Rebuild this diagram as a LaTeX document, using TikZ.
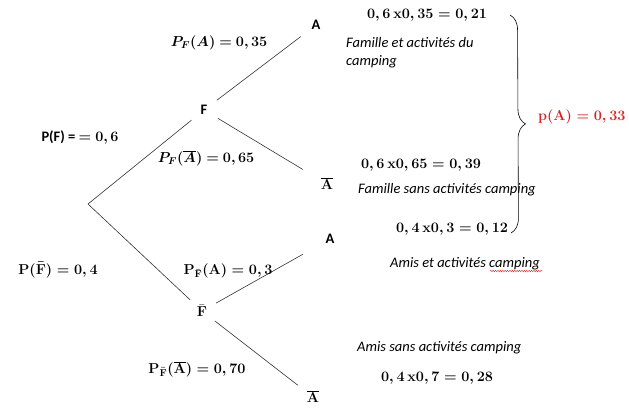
\documentclass[tikz,border=0pt]{standalone}
\usepackage{bm}
\usepackage{fontspec}
\setmainfont{Carlito}
\usetikzlibrary{decorations.pathreplacing,decorations.pathmorphing}
\definecolor{pred}{RGB}{222,32,32}
\begin{document}
\begin{tikzpicture}
  [x=1pt,y=-1pt,
   font=\fontsize{14.5}{18}\selectfont,
   main/.style={circle,inner sep=0pt,minimum size=32pt},
   leaf/.style={circle,inner sep=0pt,minimum size=38pt},
   branch/.style={draw=black!80,line width=0.6pt},
   prob/.style={inner sep=1pt},
   note/.style={inner sep=0pt,anchor=west,align=left,font=\fontsize{14.5}{18}\selectfont\itshape}]
  \useasboundingbox (0,0) rectangle (629,416);
  \coordinate (r) at (88,204);
  \node[main] (F) at (204,110) {\textbf{F}};
  \node[main] (Fb) at (202,311) {$\bm{\bar{\mathbf{F}}}$};
  \node[leaf] (A1) at (316,25) {\textbf{A}};
  \node[leaf] (Ab1) at (327,184) {$\bm{\overline{\mathbf{A}}}$};
  \node[leaf] (A2) at (330,239) {\textbf{A}};
  \node[leaf] (Ab2) at (313,397) {$\bm{\overline{\mathbf{A}}}$};
  \draw[branch] (r) to (F);
  \draw[branch] (r) to (Fb);
  \draw[branch] (F) to (A1);
  \draw[branch,shorten >=9pt] (F) to (Ab1);
  \draw[branch,shorten >=12pt] (Fb) to (A2);
  \draw[branch] (Fb) to (Ab2);
  \node[prob] (pfa) at (219,43) {$\bm{P_F(A)=0,35}$};
  \node[prob] (pf) at (80,138) {\textbf{P(F) =} $\bm{=0,6}$};
  \node[prob] (pfab) at (206,158) {$\bm{P_F(\overline{A})=0,65}$};
  \node[prob] (pfb) at (58,270) {$\bm{\mathbf{P(\bar{F})=0,4}}$};
  \node[prob] (pfba) at (228,271) {$\bm{\mathbf{P_{\bar{F}}(A)=0,3}}$};
  \node[prob] (pfbab) at (197,369) {$\bm{\mathbf{P_{\bar{F}}(\overline{A})=0,70}}$};
  \node[prob] (res1) at (427,15) {$\bm{\mathbf{0,6\,x0,35=0,21}}$};
  \node[prob] (res2) at (421,165) {$\bm{\mathbf{0,6\,x0,65=0,39}}$};
  \node[prob] (res3) at (452,229) {$\bm{\mathbf{0,4\,x0,3=0,12}}$};
  \node[prob] (res4) at (437,378) {$\bm{\mathbf{0,4\,x0,7=0,28}}$};
  \node[note] (n1) at (346,53) {Famille et activités du\\camping};
  \node[note] (n2) at (358,190) {Famille sans activités camping};
  \node[note] (n3) at (390,264) {Amis et activités camping};
  \node[note] (n4) at (357,348) {Amis sans activités camping};
  \draw[pred,line width=0.4pt,decorate,decoration={snake,amplitude=0.7pt,segment length=2.4pt}] (490,271) -- (543,271);
  \coordinate (btop) at (510,15);
  \coordinate (bbot) at (511,233);
  \draw[line width=0.6pt,decorate,decoration={brace,amplitude=15pt}] (btop) -- (bbot);
  \node[prob,anchor=west,text=pred] (pA) at (537,117) {$\bm{\mathbf{p(A)=0,33}}$};
\end{tikzpicture}
\end{document}
